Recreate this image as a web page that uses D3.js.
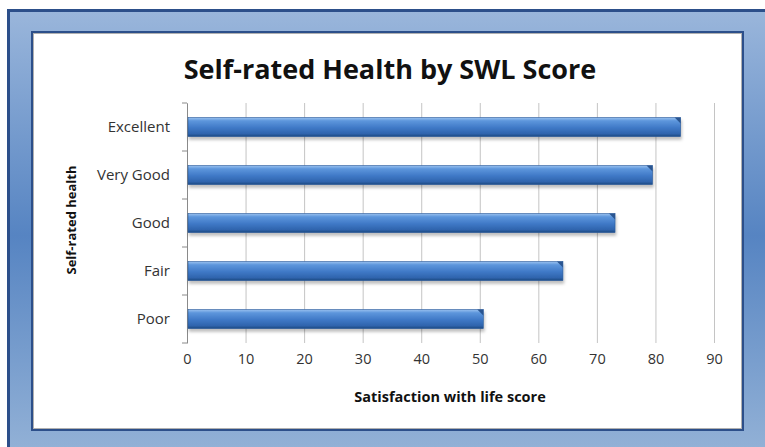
<!DOCTYPE html>
<html>
<head>
<meta charset="utf-8">
<script src="https://cdn.jsdelivr.net/npm/d3@7"></script>
<style>
  body { margin: 0; background: #fff; }
  text { font-family: "Open Sans", Lato, sans-serif; }
</style>
</head>
<body>
<div id="chart"></div>
<script>
// Datos
const categories = ["Excellent", "Very Good", "Good", "Fair", "Poor"]
const scores = [84.3, 79.5, 73.1, 64.2, 50.6]
const xTicks = [0, 10, 20, 30, 40, 50, 60, 70, 80, 90]

const width = 765
const height = 447
const plot = { left: 187, right: 714, top: 103, bottom: 343 }

const svg = d3.select("#chart").append("svg").attr("width", width).attr("height", height)
const defs = svg.append("defs")

// fondo azul degradado
const bg = defs.append("linearGradient").attr("id", "bg").attr("x1", 0).attr("y1", 0).attr("x2", 0).attr("y2", 1)
bg.append("stop").attr("offset", "0%").attr("stop-color", "#9ab6db")
bg.append("stop").attr("offset", "50%").attr("stop-color", "#5684c2")
bg.append("stop").attr("offset", "100%").attr("stop-color", "#95b3d7")

// barras tipo cilindro
const barGrad = defs.append("linearGradient").attr("id", "barGrad").attr("x1", 0).attr("y1", 0).attr("x2", 0).attr("y2", 1)
barGrad.append("stop").attr("offset", "0%").attr("stop-color", "#9cc3f0")
barGrad.append("stop").attr("offset", "18%").attr("stop-color", "#5d96dc")
barGrad.append("stop").attr("offset", "55%").attr("stop-color", "#3e78c6")
barGrad.append("stop").attr("offset", "85%").attr("stop-color", "#2f64ad")
barGrad.append("stop").attr("offset", "100%").attr("stop-color", "#1d4880")

const shadow = defs.append("filter").attr("id", "shadow").attr("x", "-5%").attr("y", "-30%").attr("width", "110%").attr("height", "180%")
shadow.append("feDropShadow").attr("dx", 1).attr("dy", 3).attr("stdDeviation", 1.5)
    .attr("flood-color", "#000").attr("flood-opacity", 0.25)

svg.append("rect").attr("x", 8.5).attr("y", 10.5).attr("width", 770).attr("height", 450)
    .attr("fill", "url(#bg)").attr("stroke", "#2c4f8a").attr("stroke-width", 3)

// panel blanco
svg.append("rect").attr("x", 32).attr("y", 32).attr("width", 711).attr("height", 398)
    .attr("fill", "#fff").attr("stroke", "#2c4f8a").attr("stroke-width", 2)
svg.append("rect").attr("x", 33.5).attr("y", 33.5).attr("width", 708).attr("height", 395)
    .attr("fill", "none").attr("stroke", "#b0b0b0").attr("stroke-width", 1)

// escalas
const x = d3.scaleLinear().domain([0, 90]).range([plot.left, plot.right])
const y = d3.scaleBand().domain(categories).range([plot.top, plot.bottom]).paddingInner(0.6).paddingOuter(0.3)

// rejilla + etiquetas eje x
const gx = svg.append("g").attr("transform", `translate(0,${plot.bottom})`)
    .call(d3.axisBottom(x).tickValues(xTicks).tickSize(-(plot.bottom - plot.top)).tickPadding(11))
gx.select(".domain").remove()
gx.selectAll(".tick line").attr("stroke", "#c4c4c4")
gx.selectAll(".tick text").attr("font-size", 14.5).attr("fill", "#333")

// eje y
const gy = svg.append("g").attr("transform", `translate(${plot.left},0)`)
    .call(d3.axisLeft(y).tickSize(0).tickPadding(17))
gy.select(".domain").attr("stroke", "#8a8a8a")
gy.selectAll(".tick text").attr("font-size", 15).attr("fill", "#333")
const step = y.step()
gy.selectAll(".sep").data(d3.range(categories.length + 1)).enter().append("line")
    .attr("x1", -5).attr("x2", 0)
    .attr("y1", i => plot.top + i * step).attr("y2", i => plot.top + i * step)
    .attr("stroke", "#8a8a8a")

// barras
const bars = svg.append("g").selectAll("g").data(categories).enter().append("g")
bars.append("rect")
    .attr("x", x(0) + 1)
    .attr("y", d => y(d))
    .attr("width", (d, i) => x(scores[i]) - x(0) - 1)
    .attr("height", y.bandwidth())
    .attr("fill", "url(#barGrad)")
    .attr("stroke", "#2a5a98").attr("stroke-width", 0.6)
    .attr("filter", "url(#shadow)")
bars.append("path")
    .attr("d", (d, i) => {
        const xe = x(scores[i]), y0 = y(d)
        return `M${xe - 6},${y0} L${xe},${y0} L${xe},${y0 + 6} Z`
    })
    .attr("fill", "#2a5590")

// titulos
svg.append("text").attr("x", 390).attr("y", 79).attr("text-anchor", "middle")
    .attr("font-size", 27).attr("font-weight", "bold").attr("fill", "#111")
    .text("Self-rated Health by SWL Score")
svg.append("text").attr("x", 450).attr("y", 402).attr("text-anchor", "middle")
    .attr("font-size", 14.5).attr("font-weight", "bold").attr("fill", "#111")
    .text("Satisfaction with life score")
svg.append("text").attr("transform", "translate(76,220) rotate(-90)").attr("text-anchor", "middle")
    .attr("font-size", 13).attr("font-weight", "bold").attr("fill", "#111")
    .text("Self-rated health")
</script>
</body>
</html>
